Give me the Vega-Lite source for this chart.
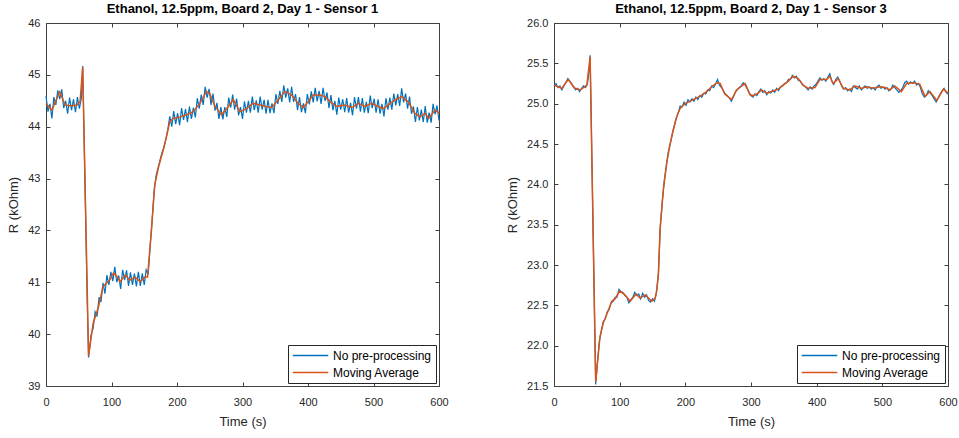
{
"$schema": "https://vega.github.io/schema/vega-lite/v6.json",
"background": "white",
"padding": {"left": 7, "top": 2, "right": 0, "bottom": 0},
"config": {
  "font": "Liberation Sans",
  "view": {"stroke": "#404040", "strokeWidth": 1},
  "axis": {"grid": false, "domain": false, "tickColor": "#404040", "tickSize": -4, "labelColor": "#262626", "labelFontSize": 11, "titleFontSize": 13, "titleFontWeight": "normal", "titleColor": "#262626"},
  "axisX": {"labelPadding": 14, "titlePadding": 8},
  "axisY": {"labelPadding": 10, "titlePadding": 7},
  "title": {"fontSize": 13, "fontWeight": "bold", "color": "#000000", "offset": 1},
  "legend": {"orient": "bottom-right", "offset": 3, "strokeColor": "#262626", "fillColor": "white", "padding": 4, "symbolType": "stroke", "symbolSize": 1260, "symbolStrokeWidth": 1.5, "labelFontSize": 12, "labelColor": "#000000", "labelOffset": 4, "rowPadding": 4, "clipHeight": 13, "cornerRadius": 0},
  "concat": {"spacing": 57}
},
"datasets": {
"s1b": [
{"t":0,"r":44.59},{"t":3,"r":44.29},{"t":6,"r":44.44},{"t":9,"r":44.16},{"t":12,"r":44.57},{"t":15,"r":44.42},{"t":18,"r":44.7},{"t":21,"r":44.53},{"t":24,"r":44.72},{"t":27,"r":44.36},{"t":30,"r":44.5},{"t":33,"r":44.25},{"t":36,"r":44.56},{"t":39,"r":44.32},{"t":42,"r":44.53},{"t":45,"r":44.28},{"t":48,"r":44.57},{"t":51,"r":44.35},{"t":54,"r":44.55},{"t":56,"r":45.17},{"t":60,"r":42.6},{"t":63,"r":40.6},{"t":65,"r":39.55},{"t":69,"r":40.0},
{"t":72,"r":40.11},{"t":75,"r":40.43},{"t":78,"r":40.34},{"t":81,"r":40.71},{"t":84,"r":40.62},{"t":87,"r":40.99},{"t":90,"r":40.78},{"t":93,"r":41.14},{"t":96,"r":40.95},{"t":99,"r":41.2},{"t":102,"r":41.02},{"t":105,"r":41.3},{"t":108,"r":41.0},{"t":111,"r":41.13},{"t":114,"r":40.87},{"t":117,"r":41.24},{"t":120,"r":41.04},{"t":123,"r":41.23},{"t":126,"r":40.93},{"t":129,"r":41.19},{"t":132,"r":40.95},{"t":135,"r":41.17},{"t":138,"r":40.92},{"t":141,"r":41.2},{"t":144,"r":40.93},{"t":147,"r":41.17},{"t":150,"r":40.95},{"t":153,"r":41.24},{"t":156,"r":41.15},{"t":159,"r":41.7},
{"t":162,"r":42.2},{"t":165,"r":42.75},{"t":168,"r":43.05},{"t":171,"r":43.2},{"t":174,"r":43.35},{"t":177,"r":43.5},{"t":180,"r":43.6},{"t":183,"r":43.76},{"t":186,"r":43.95},{"t":189,"r":44.2},{"t":192,"r":44.0},{"t":195,"r":44.3},{"t":198,"r":44.05},{"t":201,"r":44.26},{"t":204,"r":44.03},{"t":207,"r":44.36},{"t":210,"r":44.13},{"t":213,"r":44.34},{"t":216,"r":44.09},{"t":219,"r":44.39},{"t":222,"r":44.15},{"t":225,"r":44.37},{"t":228,"r":44.18},{"t":231,"r":44.55},{"t":234,"r":44.35},{"t":237,"r":44.62},{"t":240,"r":44.42},{"t":243,"r":44.77},{"t":246,"r":44.56},{"t":249,"r":44.73},{"t":252,"r":44.42},{"t":255,"r":44.64},{"t":258,"r":44.31},
{"t":261,"r":44.46},{"t":264,"r":44.15},{"t":267,"r":44.38},{"t":270,"r":44.14},{"t":273,"r":44.38},{"t":276,"r":44.19},{"t":279,"r":44.56},{"t":282,"r":44.37},{"t":285,"r":44.62},{"t":288,"r":44.33},{"t":291,"r":44.54},{"t":294,"r":44.22},{"t":297,"r":44.38},{"t":300,"r":44.15},{"t":303,"r":44.49},{"t":306,"r":44.27},{"t":309,"r":44.5},{"t":312,"r":44.27},{"t":315,"r":44.58},{"t":318,"r":44.32},{"t":321,"r":44.51},{"t":324,"r":44.27},{"t":327,"r":44.58},{"t":330,"r":44.33},{"t":333,"r":44.52},{"t":336,"r":44.25},{"t":339,"r":44.52},{"t":342,"r":44.26},{"t":345,"r":44.45},{"t":348,"r":44.26},{"t":351,"r":44.63},{"t":354,"r":44.44},{"t":357,"r":44.69},
{"t":360,"r":44.48},{"t":363,"r":44.8},{"t":366,"r":44.56},{"t":369,"r":44.74},{"t":372,"r":44.47},{"t":375,"r":44.77},{"t":378,"r":44.48},{"t":381,"r":44.63},{"t":384,"r":44.32},{"t":387,"r":44.57},{"t":390,"r":44.28},{"t":393,"r":44.45},{"t":396,"r":44.26},{"t":399,"r":44.63},{"t":402,"r":44.43},{"t":405,"r":44.68},{"t":408,"r":44.47},{"t":411,"r":44.75},{"t":414,"r":44.49},{"t":417,"r":44.69},{"t":420,"r":44.44},{"t":423,"r":44.75},{"t":426,"r":44.5},{"t":429,"r":44.66},{"t":432,"r":44.36},{"t":435,"r":44.61},{"t":438,"r":44.32},{"t":441,"r":44.5},{"t":444,"r":44.23},{"t":447,"r":44.56},{"t":450,"r":44.33},{"t":453,"r":44.53},{"t":456,"r":44.28},
{"t":459,"r":44.55},{"t":462,"r":44.27},{"t":465,"r":44.46},{"t":468,"r":44.22},{"t":471,"r":44.57},{"t":474,"r":44.35},{"t":477,"r":44.57},{"t":480,"r":44.29},{"t":483,"r":44.55},{"t":486,"r":44.27},{"t":489,"r":44.48},{"t":492,"r":44.26},{"t":495,"r":44.6},{"t":498,"r":44.36},{"t":501,"r":44.54},{"t":504,"r":44.27},{"t":507,"r":44.53},{"t":510,"r":44.25},{"t":513,"r":44.44},{"t":516,"r":44.2},{"t":519,"r":44.55},{"t":522,"r":44.33},{"t":525,"r":44.56},{"t":528,"r":44.33},{"t":531,"r":44.64},{"t":534,"r":44.41},{"t":537,"r":44.63},{"t":540,"r":44.4},{"t":543,"r":44.74},{"t":546,"r":44.47},{"t":549,"r":44.64},{"t":552,"r":44.35},{"t":555,"r":44.58},
{"t":558,"r":44.25},{"t":561,"r":44.39},{"t":564,"r":44.09},{"t":567,"r":44.38},{"t":570,"r":44.12},{"t":573,"r":44.33},{"t":576,"r":44.09},{"t":579,"r":44.4},{"t":582,"r":44.08},{"t":585,"r":44.27},{"t":588,"r":44.08},{"t":591,"r":44.44},{"t":594,"r":44.24},{"t":597,"r":44.41},{"t":600,"r":44.12}
],
"s1m": [
{"t":0,"r":44.45},{"t":5,"r":44.38},{"t":9,"r":44.32},{"t":15,"r":44.5},{"t":21,"r":44.67},{"t":25,"r":44.55},{"t":29,"r":44.42},{"t":38,"r":44.4},{"t":47,"r":44.42},{"t":52,"r":44.48},{"t":56,"r":45.15},{"t":65,"r":39.58},{"t":72,"r":40.21},{"t":80,"r":40.52},{"t":87,"r":40.91},{"t":98,"r":41.06},{"t":103,"r":41.18},{"t":108,"r":41.12},{"t":113,"r":41.01},{"t":121,"r":41.14},{"t":128,"r":41.04},{"t":136,"r":41.1},{"t":144,"r":41.01},{"t":151,"r":41.1},{"t":155,"r":41.1},{"t":161,"r":42.0},{"t":166,"r":42.88},{"t":172,"r":43.23},{"t":179,"r":43.55},{"t":184,"r":43.81},{"t":189,"r":44.1},{"t":194,"r":44.16},{"t":205,"r":44.19},{"t":215,"r":44.23},{"t":225,"r":44.29},{"t":235,"r":44.45},{"t":245,"r":44.68},{"t":250,"r":44.64},{"t":258,"r":44.39},{"t":268,"r":44.23},{"t":276,"r":44.35},{"t":286,"r":44.52},{"t":296,"r":44.29},{"t":306,"r":44.35},{"t":316,"r":44.45},{"t":327,"r":44.42},{"t":336,"r":44.39},{"t":345,"r":44.37},{"t":352,"r":44.48},{"t":365,"r":44.68},{"t":375,"r":44.61},{"t":385,"r":44.45},{"t":393,"r":44.37},{"t":400,"r":44.48},{"t":408,"r":44.61},{"t":418,"r":44.61},{"t":426,"r":44.58},{"t":434,"r":44.48},{"t":444,"r":44.39},{"t":456,"r":44.42},{"t":467,"r":44.37},{"t":477,"r":44.45},{"t":487,"r":44.39},{"t":497,"r":44.45},{"t":507,"r":44.39},{"t":515,"r":44.35},{"t":523,"r":44.42},{"t":533,"r":44.52},{"t":543,"r":44.58},{"t":553,"r":44.48},{"t":563,"r":44.26},{"t":571,"r":44.19},{"t":579,"r":44.26},{"t":584,"r":44.16},{"t":594,"r":44.32},{"t":600,"r":44.26}
],
"s3b": [
{"t":0,"r":25.22},{"t":3,"r":25.25},{"t":6,"r":25.2},{"t":9,"r":25.22},{"t":12,"r":25.17},{"t":15,"r":25.22},{"t":18,"r":25.26},{"t":21,"r":25.31},{"t":24,"r":25.28},{"t":27,"r":25.25},{"t":30,"r":25.2},{"t":33,"r":25.17},{"t":36,"r":25.19},{"t":39,"r":25.15},{"t":42,"r":25.19},{"t":45,"r":25.22},{"t":48,"r":25.2},{"t":51,"r":25.25},{"t":54,"r":25.45},{"t":55,"r":25.6},{"t":57,"r":24.65},{"t":60,"r":23.2},{"t":63.5,"r":21.52},{"t":66,"r":21.78},{"t":69,"r":22.05},
{"t":72,"r":22.18},{"t":75,"r":22.3},{"t":78,"r":22.33},{"t":81,"r":22.42},{"t":84,"r":22.45},{"t":87,"r":22.53},{"t":90,"r":22.55},{"t":93,"r":22.6},{"t":96,"r":22.6},{"t":99,"r":22.7},{"t":102,"r":22.67},{"t":105,"r":22.66},{"t":108,"r":22.62},{"t":111,"r":22.6},{"t":114,"r":22.53},{"t":117,"r":22.57},{"t":120,"r":22.6},{"t":123,"r":22.66},{"t":126,"r":22.62},{"t":129,"r":22.64},{"t":132,"r":22.58},{"t":135,"r":22.65},{"t":138,"r":22.6},{"t":141,"r":22.63},{"t":144,"r":22.56},{"t":147,"r":22.54},{"t":150,"r":22.58},{"t":153,"r":22.55},{"t":156,"r":22.65},{"t":159,"r":22.9},
{"t":162,"r":23.5},{"t":165,"r":23.8},{"t":168,"r":24.05},{"t":171,"r":24.22},{"t":174,"r":24.4},{"t":177,"r":24.5},{"t":180,"r":24.62},{"t":183,"r":24.72},{"t":186,"r":24.82},{"t":189,"r":24.88},{"t":192,"r":24.97},{"t":195,"r":24.96},{"t":198,"r":25.02},{"t":201,"r":24.98},{"t":204,"r":25.05},{"t":207,"r":25.02},{"t":210,"r":25.06},{"t":213,"r":25.03},{"t":216,"r":25.08},{"t":219,"r":25.05},{"t":222,"r":25.1},{"t":225,"r":25.08},{"t":228,"r":25.13},{"t":231,"r":25.12},{"t":234,"r":25.17},{"t":237,"r":25.16},{"t":240,"r":25.22},{"t":243,"r":25.2},{"t":246,"r":25.24},{"t":249,"r":25.3},{"t":252,"r":25.23},{"t":255,"r":25.2},{"t":258,"r":25.16},
{"t":261,"r":25.12},{"t":264,"r":25.1},{"t":267,"r":25.07},{"t":270,"r":25.03},{"t":273,"r":25.08},{"t":276,"r":25.14},{"t":279,"r":25.17},{"t":282,"r":25.2},{"t":285,"r":25.22},{"t":288,"r":25.26},{"t":291,"r":25.23},{"t":294,"r":25.19},{"t":297,"r":25.14},{"t":300,"r":25.1},{"t":303,"r":25.08},{"t":306,"r":25.12},{"t":309,"r":25.1},{"t":312,"r":25.15},{"t":315,"r":25.18},{"t":318,"r":25.14},{"t":321,"r":25.16},{"t":324,"r":25.11},{"t":327,"r":25.15},{"t":330,"r":25.13},{"t":333,"r":25.17},{"t":336,"r":25.14},{"t":339,"r":25.19},{"t":342,"r":25.16},{"t":345,"r":25.21},{"t":348,"r":25.22},{"t":351,"r":25.25},{"t":354,"r":25.26},{"t":357,"r":25.3},
{"t":360,"r":25.3},{"t":363,"r":25.35},{"t":366,"r":25.32},{"t":369,"r":25.34},{"t":372,"r":25.29},{"t":375,"r":25.28},{"t":378,"r":25.24},{"t":381,"r":25.22},{"t":384,"r":25.2},{"t":387,"r":25.17},{"t":390,"r":25.21},{"t":393,"r":25.18},{"t":396,"r":25.22},{"t":399,"r":25.24},{"t":402,"r":25.28},{"t":405,"r":25.32},{"t":408,"r":25.29},{"t":411,"r":25.31},{"t":414,"r":25.28},{"t":417,"r":25.33},{"t":420,"r":25.37},{"t":423,"r":25.28},{"t":426,"r":25.24},{"t":429,"r":25.3},{"t":432,"r":25.33},{"t":435,"r":25.28},{"t":438,"r":25.22},{"t":441,"r":25.18},{"t":444,"r":25.2},{"t":447,"r":25.16},{"t":450,"r":25.18},{"t":453,"r":25.15},{"t":456,"r":25.22},
{"t":459,"r":25.2},{"t":462,"r":25.18},{"t":465,"r":25.22},{"t":468,"r":25.17},{"t":471,"r":25.2},{"t":474,"r":25.22},{"t":477,"r":25.19},{"t":480,"r":25.21},{"t":483,"r":25.18},{"t":486,"r":25.2},{"t":489,"r":25.17},{"t":492,"r":25.21},{"t":495,"r":25.23},{"t":498,"r":25.19},{"t":501,"r":25.21},{"t":504,"r":25.18},{"t":507,"r":25.2},{"t":510,"r":25.16},{"t":513,"r":25.18},{"t":516,"r":25.23},{"t":519,"r":25.2},{"t":522,"r":25.17},{"t":525,"r":25.14},{"t":528,"r":25.16},{"t":531,"r":25.2},{"t":534,"r":25.26},{"t":537,"r":25.28},{"t":540,"r":25.24},{"t":543,"r":25.27},{"t":546,"r":25.25},{"t":549,"r":25.28},{"t":552,"r":25.23},{"t":555,"r":25.25},
{"t":558,"r":25.2},{"t":561,"r":25.12},{"t":564,"r":25.08},{"t":567,"r":25.1},{"t":570,"r":25.16},{"t":573,"r":25.13},{"t":576,"r":25.1},{"t":579,"r":25.06},{"t":582,"r":25.02},{"t":585,"r":25.07},{"t":588,"r":25.12},{"t":591,"r":25.16},{"t":594,"r":25.19},{"t":597,"r":25.14},{"t":600,"r":25.12}
],
"s3m": [
{"t":0,"r":25.23},{"t":6,"r":25.21},{"t":12,"r":25.19},{"t":17,"r":25.25},{"t":22,"r":25.3},{"t":27,"r":25.24},{"t":32,"r":25.19},{"t":40,"r":25.17},{"t":50,"r":25.23},{"t":55,"r":25.58},{"t":63.5,"r":21.55},{"t":70,"r":22.11},{"t":75,"r":22.28},{"t":80,"r":22.38},{"t":88,"r":22.55},{"t":93,"r":22.58},{"t":100,"r":22.68},{"t":108,"r":22.63},{"t":116,"r":22.55},{"t":125,"r":22.64},{"t":131,"r":22.59},{"t":139,"r":22.63},{"t":149,"r":22.55},{"t":154,"r":22.59},{"t":156.5,"r":22.69},{"t":159,"r":22.88},{"t":161.5,"r":23.43},{"t":166.5,"r":23.93},{"t":171.5,"r":24.26},{"t":176.5,"r":24.49},{"t":181.5,"r":24.67},{"t":187,"r":24.84},{"t":192,"r":24.94},{"t":199.5,"r":25.0},{"t":210,"r":25.04},{"t":222,"r":25.09},{"t":232.5,"r":25.15},{"t":240,"r":25.21},{"t":248,"r":25.26},{"t":253,"r":25.25},{"t":260,"r":25.12},{"t":270.5,"r":25.05},{"t":278,"r":25.17},{"t":291,"r":25.25},{"t":298.5,"r":25.11},{"t":303.5,"r":25.1},{"t":311,"r":25.13},{"t":316,"r":25.17},{"t":324,"r":25.13},{"t":331.5,"r":25.15},{"t":341.5,"r":25.18},{"t":349,"r":25.23},{"t":357,"r":25.28},{"t":364,"r":25.34},{"t":372,"r":25.31},{"t":379.5,"r":25.23},{"t":387,"r":25.19},{"t":397.5,"r":25.2},{"t":405,"r":25.3},{"t":415,"r":25.3},{"t":420,"r":25.34},{"t":425,"r":25.25},{"t":433,"r":25.31},{"t":440.5,"r":25.19},{"t":450.5,"r":25.17},{"t":458,"r":25.22},{"t":468.5,"r":25.19},{"t":476,"r":25.21},{"t":486,"r":25.19},{"t":496.5,"r":25.21},{"t":504,"r":25.2},{"t":511.5,"r":25.17},{"t":519,"r":25.22},{"t":529,"r":25.15},{"t":537,"r":25.25},{"t":547,"r":25.26},{"t":557,"r":25.24},{"t":565,"r":25.09},{"t":572.5,"r":25.15},{"t":583,"r":25.04},{"t":593,"r":25.18},{"t":600,"r":25.13}
]
},
"resolve": {"scale": {"x": "independent", "y": "independent", "color": "independent"}, "legend": {"color": "independent"}},
"hconcat": [
{
  "width": 393, "height": 363,
  "title": "Ethanol, 12.5ppm, Board 2, Day 1 - Sensor 1",
  "layer": [
    {"data": {"name": "s1b"}, "mark": {"type": "line", "strokeWidth": 1.2},
     "encoding": {
       "x": {"field": "t", "type": "quantitative", "scale": {"domain": [0, 600], "nice": false}, "axis": {"values": [0,100,200,300,400,500,600], "title": "Time (s)", "labelFlush": false}},
       "y": {"field": "r", "type": "quantitative", "scale": {"domain": [39, 46], "nice": false, "zero": false}, "axis": {"values": [39,40,41,42,43,44,45,46], "title": "R (kOhm)"}},
       "color": {"datum": "No pre-processing", "type": "nominal", "scale": {"domain": ["No pre-processing", "Moving Average"], "range": ["#0072BD", "#D95319"]}, "legend": {"title": null}}
     }},
    {"data": {"name": "s1m"}, "mark": {"type": "line", "strokeWidth": 1.5},
     "encoding": {
       "x": {"field": "t", "type": "quantitative", "axis": {"orient": "top", "labels": false, "title": null, "labelPadding": 0, "titlePadding": 0, "values": [0,100,200,300,400,500,600]}},
       "y": {"field": "r", "type": "quantitative", "axis": {"orient": "right", "labels": false, "title": null, "labelPadding": 0, "titlePadding": 0, "values": [39,40,41,42,43,44,45,46]}},
       "color": {"datum": "Moving Average", "type": "nominal"}
     }}
  ],
  "resolve": {"axis": {"x": "independent", "y": "independent"}}
},
{
  "width": 394, "height": 363,
  "title": "Ethanol, 12.5ppm, Board 2, Day 1 - Sensor 3",
  "layer": [
    {"data": {"name": "s3b"}, "mark": {"type": "line", "strokeWidth": 1.2},
     "encoding": {
       "x": {"field": "t", "type": "quantitative", "scale": {"domain": [0, 600], "nice": false}, "axis": {"values": [0,100,200,300,400,500,600], "title": "Time (s)", "labelFlush": false}},
       "y": {"field": "r", "type": "quantitative", "scale": {"domain": [21.5, 26], "nice": false, "zero": false}, "axis": {"values": [21.5,22,22.5,23,23.5,24,24.5,25,25.5,26], "title": "R (kOhm)"}},
       "color": {"datum": "No pre-processing", "type": "nominal", "scale": {"domain": ["No pre-processing", "Moving Average"], "range": ["#0072BD", "#D95319"]}, "legend": {"title": null}}
     }},
    {"data": {"name": "s3m"}, "mark": {"type": "line", "strokeWidth": 1.5},
     "encoding": {
       "x": {"field": "t", "type": "quantitative", "axis": {"orient": "top", "labels": false, "title": null, "labelPadding": 0, "titlePadding": 0, "values": [0,100,200,300,400,500,600]}},
       "y": {"field": "r", "type": "quantitative", "axis": {"orient": "right", "labels": false, "title": null, "labelPadding": 0, "titlePadding": 0, "values": [21.5,22,22.5,23,23.5,24,24.5,25,25.5,26]}},
       "color": {"datum": "Moving Average", "type": "nominal"}
     }}
  ],
  "resolve": {"axis": {"x": "independent", "y": "independent"}}
}
]
}
